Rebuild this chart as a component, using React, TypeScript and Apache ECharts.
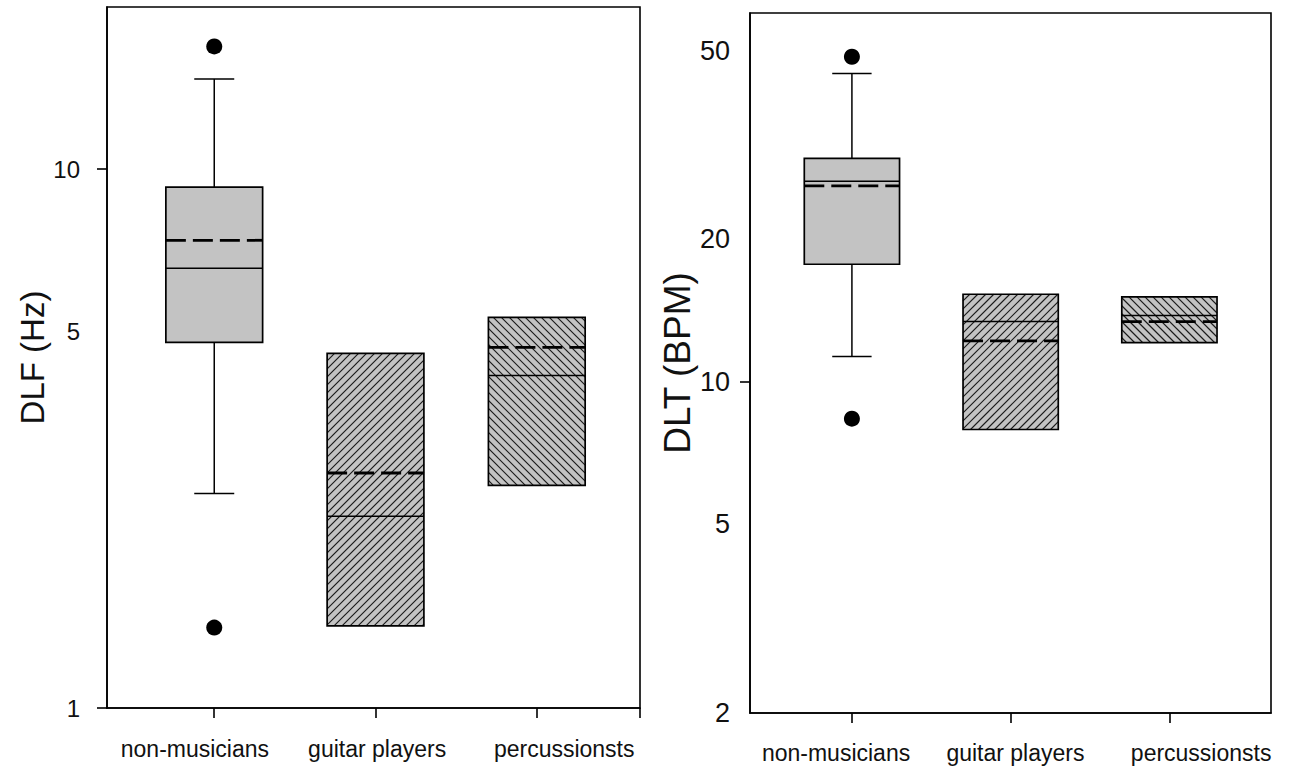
import React, { useEffect, useRef } from 'react';
import * as echarts from 'echarts';

const categories = ['non-musicians', 'guitar players', 'percussionsts'];
const categoryPositions = [1, 2, 3];
const hatchKinds = ['none', 'forward', 'backward'];

// Left panel: DLF (Hz)
const dlfWhiskerLow = [2.5, null, null];
const dlfQ1 = [4.77, 1.42, 2.59];
const dlfMedian = [6.55, 2.27, 4.14];
const dlfMean = [7.38, 2.73, 4.67];
const dlfQ3 = [9.26, 4.55, 5.31];
const dlfWhiskerHigh = [14.7, null, null];
const dlfOutliers = [[1, 16.9], [1, 1.41]];
const dlfTickLabels = [1, 5, 10];
const dlfTickMarks = [1, 10];
const dlfCategoryLabelAt = [0.88, 2.01, 3.17];

// Right panel: DLT (BPM)
const dltWhiskerLow = [11.3, null, null];
const dltQ1 = [17.7, 7.93, 12.1];
const dltMedian = [26.5, 13.4, 13.8];
const dltMean = [25.9, 12.2, 13.4];
const dltQ3 = [29.6, 15.3, 15.1];
const dltWhiskerHigh = [44.7, null, null];
const dltOutliers = [[1, 48.5], [1, 8.36]];
const dltTickLabels = [2, 5, 10, 20, 50];
const dltTickMarks = [10];
const dltCategoryLabelAt = [0.9, 2.03, 3.2];

const FONT = 'Liberation Sans, Arial, sans-serif';

type Stats = {
  low: (number | null)[];
  q1: number[];
  median: number[];
  mean: number[];
  q3: number[];
  high: (number | null)[];
};

function hatch(x0: number, y0: number, x1: number, y1: number, kind: string, s: number) {
  const out: any[] = [];
  const style = { stroke: '#1a1a1a', lineWidth: 1.15 };
  if (kind === 'forward') {
    for (let c = Math.ceil((x0 + y0) / s) * s; c <= x1 + y1; c += s) {
      const xa = Math.max(x0, c - y1);
      const xb = Math.min(x1, c - y0);
      if (xb > xa) out.push({ type: 'line', shape: { x1: xa, y1: c - xa, x2: xb, y2: c - xb }, style });
    }
  } else if (kind === 'backward') {
    for (let c = Math.ceil((x0 - y1) / s) * s; c <= x1 - y0; c += s) {
      const xa = Math.max(x0, c + y0);
      const xb = Math.min(x1, c + y1);
      if (xb > xa) out.push({ type: 'line', shape: { x1: xa, y1: xa - c, x2: xb, y2: xb - c }, style });
    }
  }
  return out;
}

function makeRenderItem(st: Stats) {
  return (params: any, api: any) => {
    const i = params.dataIndex;
    const x = categoryPositions[i];
    const half = 0.3;
    const capHalf = 0.124;
    const [xl, yTop] = api.coord([x - half, st.q3[i]]);
    const [xr, yBot] = api.coord([x + half, st.q1[i]]);
    const [xc] = api.coord([x, st.q1[i]]);
    const yMed = api.coord([x, st.median[i]])[1];
    const yMean = api.coord([x, st.mean[i]])[1];
    const children: any[] = [];
    children.push({
      type: 'rect',
      shape: { x: xl, y: yTop, width: xr - xl, height: yBot - yTop },
      style: { fill: '#c3c3c3', stroke: null },
    });
    children.push(...hatch(xl, yTop, xr, yBot, hatchKinds[i], 8));
    children.push({
      type: 'rect',
      shape: { x: xl, y: yTop, width: xr - xl, height: yBot - yTop },
      style: { fill: null, stroke: '#000', lineWidth: 1.7 },
    });
    children.push({
      type: 'line',
      shape: { x1: xl, y1: yMed, x2: xr, y2: yMed },
      style: { stroke: '#000', lineWidth: 1.5 },
    });
    children.push({
      type: 'line',
      shape: { x1: xl, y1: yMean, x2: xr, y2: yMean },
      style: { stroke: '#000', lineWidth: 2.8, lineDash: [20, 7] },
    });
    const hi = st.high[i];
    if (hi != null) {
      const yHi = api.coord([x, hi])[1];
      const [cl] = api.coord([x - capHalf, hi]);
      const [cr] = api.coord([x + capHalf, hi]);
      children.push({ type: 'line', shape: { x1: xc, y1: yTop, x2: xc, y2: yHi }, style: { stroke: '#000', lineWidth: 1.5 } });
      children.push({ type: 'line', shape: { x1: cl, y1: yHi, x2: cr, y2: yHi }, style: { stroke: '#000', lineWidth: 1.5 } });
    }
    const lo = st.low[i];
    if (lo != null) {
      const yLo = api.coord([x, lo])[1];
      const [cl] = api.coord([x - capHalf, lo]);
      const [cr] = api.coord([x + capHalf, lo]);
      children.push({ type: 'line', shape: { x1: xc, y1: yBot, x2: xc, y2: yLo }, style: { stroke: '#000', lineWidth: 1.5 } });
      children.push({ type: 'line', shape: { x1: cl, y1: yLo, x2: cr, y2: yLo }, style: { stroke: '#000', lineWidth: 1.5 } });
    }
    return { type: 'group', children };
  };
}

export default function App() {
  const ref = useRef<HTMLDivElement>(null);
  useEffect(() => {
    if (!ref.current) return;
    const chart = echarts.init(ref.current, undefined, { renderer: 'svg' });
    const axisLine = { show: true, lineStyle: { color: '#000', width: 1.6 } };
    const xAxisBase = (idx: number, min: number, max: number, ticks: number[], labelAt: number[], margin: number, fs: number) => ({
      type: 'value',
      gridIndex: idx,
      min,
      max,
      axisLine,
      splitLine: { show: false },
      axisTick: { show: true, inside: false, length: 10, lineStyle: { color: '#000', width: 1.6 }, customValues: ticks },
      axisLabel: {
        show: true,
        customValues: labelAt,
        margin,
        color: '#111',
        fontSize: fs,
        fontFamily: FONT,
        formatter: (v: number) => {
          let best = 0;
          labelAt.forEach((p, k) => {
            if (Math.abs(p - v) < Math.abs(labelAt[best] - v)) best = k;
          });
          return categories[best];
        },
      },
    });
    const yAxisBase = (idx: number, min: number, max: number, labels: number[], marks: number[], name: string, nameGap: number, nameSize: number, margin: number, fs: number) => ({
      type: 'log',
      logBase: 10,
      gridIndex: idx,
      min,
      max,
      name,
      nameLocation: 'middle',
      nameGap,
      nameRotate: 90,
      nameTextStyle: { fontSize: nameSize, fontFamily: FONT, color: '#111' },
      axisLine,
      splitLine: { show: false },
      minorTick: { show: false },
      axisTick: { show: true, inside: false, length: 10, lineStyle: { color: '#000', width: 1.6 }, customValues: marks },
      axisLabel: {
        show: true,
        customValues: labels,
        margin,
        color: '#111',
        fontSize: fs,
        fontFamily: FONT,
        formatter: (v: number) => String(Math.round(v)),
      },
    });
    chart.setOption({
      animation: false,
      backgroundColor: '#fff',
      grid: [
        { left: 107, top: 7, width: 533, height: 701, show: true, borderColor: '#000', borderWidth: 1.6, backgroundColor: 'transparent' },
        { left: 750, top: 13, width: 521, height: 700, show: true, borderColor: '#000', borderWidth: 1.6, backgroundColor: 'transparent' },
      ],
      xAxis: [
        xAxisBase(0, 0.335, 3.64, [1, 2, 3, 3.64], dlfCategoryLabelAt, 29, 23),
        xAxisBase(1, 0.358, 3.64, [1, 2, 3], dltCategoryLabelAt, 28, 23),
      ],
      yAxis: [
        yAxisBase(0, 1, 20, dlfTickLabels, dlfTickMarks, 'DLF (Hz)', 52, 33, 27, 24),
        yAxisBase(1, 2, 60, dltTickLabels, dltTickMarks, 'DLT (BPM)', 53, 37, 20, 27),
      ],
      series: [
        {
          type: 'custom',
          xAxisIndex: 0,
          yAxisIndex: 0,
          renderItem: makeRenderItem({ low: dlfWhiskerLow, q1: dlfQ1, median: dlfMedian, mean: dlfMean, q3: dlfQ3, high: dlfWhiskerHigh }),
          data: categoryPositions.map((p, i) => [p, dlfQ3[i]]),
          encode: { x: 0, y: 1 },
          z: 2,
        },
        {
          type: 'custom',
          xAxisIndex: 1,
          yAxisIndex: 1,
          renderItem: makeRenderItem({ low: dltWhiskerLow, q1: dltQ1, median: dltMedian, mean: dltMean, q3: dltQ3, high: dltWhiskerHigh }),
          data: categoryPositions.map((p, i) => [p, dltQ3[i]]),
          encode: { x: 0, y: 1 },
          z: 2,
        },
        {
          type: 'scatter',
          xAxisIndex: 0,
          yAxisIndex: 0,
          symbol: 'circle',
          symbolSize: 16,
          itemStyle: { color: '#000', opacity: 1 },
          data: dlfOutliers,
          z: 3,
        },
        {
          type: 'scatter',
          xAxisIndex: 1,
          yAxisIndex: 1,
          symbol: 'circle',
          symbolSize: 16,
          itemStyle: { color: '#000', opacity: 1 },
          data: dltOutliers,
          z: 3,
        },
      ],
    });
    return () => chart.dispose();
  }, []);
  return <div ref={ref} style={{ position: 'fixed', left: 0, top: 0, width: 1293, height: 774 }} />;
}
